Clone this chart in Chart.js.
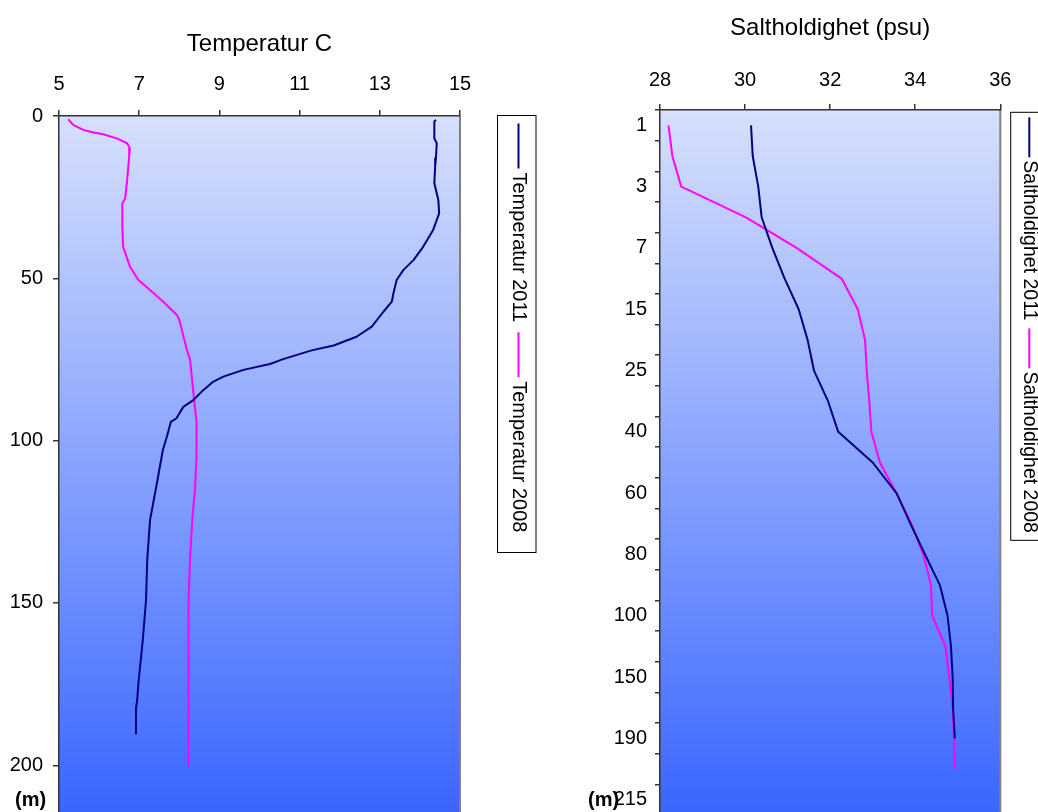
<!DOCTYPE html>
<html><head><meta charset="utf-8">
<script src="https://cdn.jsdelivr.net/npm/chart.js@4.4.1/dist/chart.umd.min.js"></script>
<style>
html,body{margin:0;padding:0;background:#fff;overflow:hidden;width:1038px;height:812px}
#wl{position:absolute;left:0;top:0;width:545px;height:812px}
#wr{position:absolute;left:520px;top:0;width:518px;height:815px}
</style></head><body>
<div id="wl"><canvas id="cl" width="545" height="812"></canvas></div>
<div id="wr"><canvas id="cr" width="518" height="815"></canvas></div>
<script>
// ---- Temperature profiles (depth m, temperature C) ----
const tempDepth2011 = [1.2,1.7,6.9,8.4,13.0,15.6,20.7,25.9,30.0,35.1,40.3,44.4,47.4,50.5,54.6,57.2,60.3,64.9,68.0,70.7,72.2,74.9,76.4,78.2,80.3,81.8,84.9,87.5,89.6,93.1,94.2,98.8,102.9,113.2,124.5,136.8,149.1,161.4,174.8,179.9,182.5,190.2];
const temp2011      = [14.40,14.36,14.36,14.42,14.40,14.38,14.36,14.46,14.48,14.33,14.08,13.84,13.59,13.42,13.34,13.30,13.09,12.80,12.42,11.85,11.30,10.59,10.26,9.60,9.10,8.85,8.56,8.35,8.10,7.93,7.79,7.69,7.59,7.44,7.27,7.20,7.17,7.09,6.98,6.95,6.92,6.92];
const tempDepth2008 = [1.0,2.8,4.3,5.1,5.6,6.9,8.4,10.0,12.5,19.7,25.4,26.9,34.1,40.3,46.4,50.5,53.6,57.2,61.3,62.8,71.6,75.2,87.5,94.2,104.9,115.2,123.4,135.8,149.1,171.7,199.9];
const temp2008      = [5.23,5.36,5.61,5.86,6.10,6.44,6.70,6.77,6.75,6.70,6.65,6.58,6.58,6.60,6.77,6.98,7.27,7.60,7.94,8.00,8.18,8.27,8.37,8.43,8.43,8.39,8.33,8.27,8.23,8.23,8.23];

// ---- Salinity profiles (depth category, psu) ----
const salDepthLabels = ['1','2','3','5','7','10','15','20','25','30','40','50','60','70','80','90','100','125','150','175','190','200','215'];
const sal2011 = [30.14,30.18,30.31,30.39,30.64,30.93,31.26,31.47,31.62,31.95,32.19,33.00,33.56,33.89,34.23,34.58,34.76,34.84,34.88,34.89,34.93,null,null];
const sal2008 = [28.20,28.29,28.50,30.02,31.21,32.27,32.65,32.82,32.86,32.92,32.97,33.17,33.56,33.91,34.19,34.37,34.40,34.71,34.80,34.88,34.91,34.93,null];

const FONT = "'Liberation Sans', Arial, sans-serif";
Chart.defaults.font.family = FONT;
Chart.defaults.color = '#000';

const AXIS = '#333';

const bgPlugin = {
  id: 'bgGrad',
  beforeDraw(chart) {
    const {ctx, chartArea: a} = chart;
    const g = ctx.createLinearGradient(0, a.top, 0, a.bottom);
    g.addColorStop(0, '#D6E0FC');
    g.addColorStop(1, '#3A66FF');
    ctx.save();
    ctx.fillStyle = g;
    ctx.fillRect(a.left, a.top, a.right - a.left, a.bottom - a.top);
    ctx.strokeStyle = '#808080';
    ctx.lineWidth = 2;
    ctx.beginPath();
    ctx.moveTo(a.right, a.top);
    ctx.lineTo(a.right, a.bottom);
    ctx.stroke();
    ctx.restore();
  }
};

function makeLegend(o) {
  return {
    id: 'vlegend',
    afterDraw(chart) {
      const ctx = chart.ctx;
      ctx.save();
      ctx.fillStyle = '#fff';
      ctx.fillRect(o.left, o.top, o.width, o.height);
      ctx.strokeStyle = '#000';
      ctx.lineWidth = 1;
      ctx.strokeRect(o.left, o.top, o.width, o.height);
      ctx.font = o.size + 'px ' + FONT;
      let y = o.top + o.pad;
      chart.data.datasets.forEach((ds) => {
        ctx.strokeStyle = ds.borderColor;
        ctx.lineWidth = 2;
        ctx.beginPath();
        ctx.moveTo(o.x, y);
        ctx.lineTo(o.x, y + o.len);
        ctx.stroke();
        y += o.len + o.gap1;
        ctx.save();
        ctx.translate(o.x, y);
        ctx.rotate(Math.PI / 2);
        ctx.fillStyle = '#000';
        ctx.textBaseline = 'middle';
        ctx.textAlign = 'left';
        ctx.fillText(ds.label, 0, 0);
        ctx.restore();
        y += ctx.measureText(ds.label).width + o.gap2;
      });
      ctx.restore();
    }
  };
}

function makeUnit(x, y) {
  return {
    id: 'unitLabel',
    afterDraw(chart) {
      const ctx = chart.ctx;
      ctx.save();
      ctx.font = 'bold 20px ' + FONT;
      ctx.fillStyle = '#000';
      ctx.textBaseline = 'middle';
      ctx.textAlign = 'left';
      ctx.fillText('(m)', x, y);
      ctx.restore();
    }
  };
}

function fixX(h) { return function (s) { s.height = h; s.paddingLeft = 0; s.paddingRight = 0; }; }
function fixY(w) { return function (s) { s.width = w; s.paddingTop = 0; s.paddingBottom = 0; }; }

const gridOpts = {drawOnChartArea: false, tickLength: 6, color: AXIS, lineWidth: 1.5};
const borderOpts = {color: AXIS, width: 1.5};

// ---- Left chart: temperature ----
new Chart(document.getElementById('cl'), {
  type: 'scatter',
  data: {
    datasets: [
      {label: 'Temperatur 2011', data: tempDepth2011.map((d, i) => ({x: temp2011[i], y: d})),
       borderColor: '#000080', backgroundColor: '#000080', showLine: true, pointRadius: 0, borderWidth: 2, borderJoinStyle: 'round'},
      {label: 'Temperatur 2008', data: tempDepth2008.map((d, i) => ({x: temp2008[i], y: d})),
       borderColor: '#FF00FF', backgroundColor: '#FF00FF', showLine: true, pointRadius: 0, borderWidth: 2, borderJoinStyle: 'round'}
    ]
  },
  options: {
    responsive: false, animation: false, devicePixelRatio: 1,
    layout: {padding: {left: 0, right: 85, top: 0, bottom: 0}},
    plugins: {
      legend: {display: false}, tooltip: {enabled: false},
      title: {display: true, text: 'Temperatur C', fullSize: false, color: '#000',
              font: {size: 24, weight: 'normal'}, padding: {top: 30, bottom: 0}}
    },
    scales: {
      x: {type: 'linear', position: 'top', min: 5, max: 15,
          ticks: {stepSize: 2, padding: 13.5, font: {size: 20}, color: '#000'},
          grid: gridOpts, border: borderOpts,
          afterFit: fixX(57.2)},
      y: {type: 'linear', reverse: true, min: 0, max: 214.4,
          ticks: {stepSize: 50, includeBounds: false, padding: 10, font: {size: 20}, color: '#000'},
          grid: gridOpts, border: borderOpts,
          afterFit: fixY(59)}
    }
  },
  plugins: [bgPlugin,
    makeLegend({left: 497.5, top: 115.5, width: 38.5, height: 437, x: 518.5, pad: 8, len: 45, gap1: 4, gap2: 10, size: 20}),
    makeUnit(15, 800)]
});

// ---- Right chart: salinity ----
new Chart(document.getElementById('cr'), {
  type: 'line',
  data: {
    labels: salDepthLabels,
    datasets: [
      {label: 'Saltholdighet 2011', data: sal2011, borderColor: '#000080', backgroundColor: '#000080',
       pointRadius: 0, borderWidth: 2, borderJoinStyle: 'round'},
      {label: 'Saltholdighet 2008', data: sal2008, borderColor: '#FF00FF', backgroundColor: '#FF00FF',
       pointRadius: 0, borderWidth: 2, borderJoinStyle: 'round'}
    ]
  },
  options: {
    indexAxis: 'y',
    responsive: false, animation: false, devicePixelRatio: 1,
    layout: {padding: {left: 0, right: 37.7, top: 0, bottom: 0}},
    plugins: {
      legend: {display: false}, tooltip: {enabled: false},
      title: {display: true, text: 'Saltholdighet (psu)', fullSize: false, color: '#000',
              font: {size: 24, weight: 'normal'}, padding: {top: 13.5, bottom: 0}}
    },
    scales: {
      x: {type: 'linear', position: 'top', min: 28, max: 36,
          ticks: {stepSize: 2, padding: 11.3, font: {size: 20}, color: '#000'},
          grid: gridOpts, border: borderOpts,
          afterFit: fixX(67.7)},
      y: {type: 'category', offset: true,
          ticks: {autoSkip: false, padding: 8, font: {size: 20}, color: '#000',
                  callback(v, i) { return i % 2 === 0 ? this.getLabelForValue(v) : ''; }},
          grid: {drawOnChartArea: false, tickLength: 5, color: AXIS, lineWidth: 1.5, offset: true},
          border: borderOpts,
          afterFit: fixY(140)}
    }
  },
  plugins: [bgPlugin,
    makeLegend({left: 490.7, top: 112.3, width: 60, height: 428, x: 509.3, pad: 5, len: 40, gap1: 3, gap2: 8, size: 19.5}),
    makeUnit(68, 800)]
});
</script>
</body></html>
